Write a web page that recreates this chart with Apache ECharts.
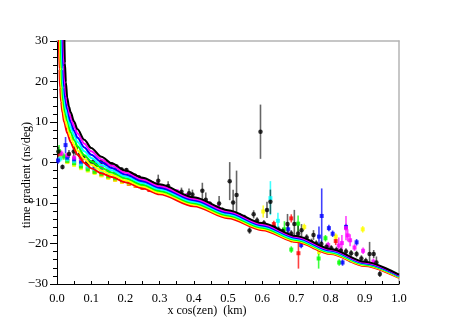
<!DOCTYPE html>
<html>
<head>
<meta charset="utf-8">
<script src="https://cdn.jsdelivr.net/npm/echarts@6/dist/echarts.min.js"></script>
<style>
  html, body { margin: 0; padding: 0; background: #fff; }
  #main { width: 457px; height: 323px; }
</style>
</head>
<body>
<div id="main"></div>
<script>
// fitted curves, [x, y]
var curveRed = [[0.0055,31],[0.007,23],[0.009,18.5],[0.012,15],[0.016,12.3],[0.021,10],[0.03,7.3],[0.04,5.0],[0.05,3.3],[0.06,1.9],[0.08,-0.1],[0.1,-1.4],[0.13,-2.65],[0.16,-3.6],[0.2,-4.85],[0.25,-6.37],[0.3,-7.85],[0.4,-10.8],[0.5,-13.75],[0.6,-16.7],[0.7,-19.65],[0.8,-22.6],[0.9,-25.55],[1.0,-28.5]];
var curveYellow = [[0.0085,31],[0.0102,23],[0.0125,18.5],[0.0155,15],[0.0195,12.3],[0.0245,10.2],[0.03,8.75],[0.04,6.23],[0.05,4.43],[0.06,2.95],[0.08,0.85],[0.1,-0.57],[0.13,-1.97],[0.16,-3.03],[0.2,-4.38],[0.25,-5.93],[0.3,-7.44],[0.4,-10.43],[0.5,-13.42],[0.6,-16.41],[0.7,-19.4],[0.8,-22.39],[0.9,-25.38],[1.0,-28.37]];
var curveGreen = [[0.011,31],[0.0128,23],[0.0152,18.5],[0.0185,15],[0.0235,12.3],[0.03,10.2],[0.04,7.47],[0.05,5.57],[0.06,4.0],[0.08,1.8],[0.1,0.27],[0.13,-1.28],[0.16,-2.47],[0.2,-3.9],[0.25,-5.5],[0.3,-7.03],[0.4,-10.06],[0.5,-13.09],[0.6,-16.12],[0.7,-19.15],[0.8,-22.18],[0.9,-25.2],[1.0,-28.23]];
var curveCyan = [[0.0137,31],[0.0155,23],[0.018,18.5],[0.0215,15.2],[0.0255,13.2],[0.03,11.65],[0.04,8.7],[0.05,6.7],[0.06,5.05],[0.08,2.75],[0.1,1.1],[0.13,-0.6],[0.16,-1.9],[0.2,-3.43],[0.25,-5.06],[0.3,-6.63],[0.4,-9.7],[0.5,-12.76],[0.6,-15.83],[0.7,-18.9],[0.8,-21.97],[0.9,-25.03],[1.0,-28.1]];
var curveBlue = [[0.0163,31],[0.0182,23],[0.0208,18.5],[0.0245,15.5],[0.03,13.1],[0.04,9.93],[0.05,7.83],[0.06,6.1],[0.08,3.7],[0.1,1.93],[0.13,0.08],[0.16,-1.33],[0.2,-2.95],[0.25,-4.62],[0.3,-6.22],[0.4,-9.33],[0.5,-12.43],[0.6,-15.54],[0.7,-18.64],[0.8,-21.75],[0.9,-24.86],[1.0,-27.97]];
var curveMagenta = [[0.019,31],[0.0207,24],[0.0235,19],[0.0265,16.5],[0.03,14.55],[0.04,11.17],[0.05,8.97],[0.06,7.15],[0.08,4.65],[0.1,2.77],[0.13,0.77],[0.16,-0.77],[0.2,-2.48],[0.25,-4.19],[0.3,-5.81],[0.4,-8.96],[0.5,-12.1],[0.6,-15.25],[0.7,-18.39],[0.8,-21.54],[0.9,-24.68],[1.0,-27.83]];
var curveBlack = [[0.0215,31],[0.0232,24.5],[0.026,19.8],[0.03,16.0],[0.035,13.8],[0.04,12.4],[0.05,10.1],[0.06,8.2],[0.08,5.6],[0.1,3.6],[0.13,1.45],[0.16,-0.2],[0.2,-2.0],[0.25,-3.75],[0.3,-5.4],[0.4,-8.59],[0.5,-11.77],[0.6,-14.96],[0.7,-18.14],[0.8,-21.33],[0.9,-24.51],[1.0,-27.7]];

// measured points, [x, y, error]
var blackPts = [[0.004,2.7,1.2],[0.016,-1.1,0.6],[0.035,2.1,1.0],[0.049,2.7,1.2],[0.055,3.6,1.8],[0.066,1.9,1.0],[0.077,1.3,0.8],[0.087,-0.2,0.7],[0.096,0.0,0.6],[0.106,0.2,0.6],[0.115,-0.6,0.5],[0.13,0.2,0.5],[0.144,-0.2,0.5],[0.159,-0.45,0.5],[0.174,-1.0,0.5],[0.189,-1.7,0.5],[0.203,-1.85,0.5],[0.218,-3.0,0.5],[0.228,-3.3,0.5],[0.24,-3.7,0.5],[0.251,-4.1,0.5],[0.266,-4.9,0.5],[0.279,-5.2,0.5],[0.296,-4.5,1.5],[0.305,-6.1,0.5],[0.315,-6.6,0.5],[0.325,-5.8,1.2],[0.335,-7.2,0.5],[0.349,-7.8,0.5],[0.364,-7.2,1.0],[0.373,-8.4,0.5],[0.386,-7.6,1.2],[0.396,-7.9,1.2],[0.408,-9.3,0.5],[0.425,-7.0,2.0],[0.435,-9.2,1.8],[0.447,-10.2,0.6],[0.461,-11.1,0.6],[0.474,-10.1,1.8],[0.484,-11.7,0.6],[0.495,-12.4,0.6],[0.505,-4.6,4.7],[0.515,-9.9,3.2],[0.525,-8.0,6.0],[0.535,-13.2,0.7],[0.548,-13.6,0.7],[0.563,-16.8,0.8],[0.575,-12.8,1.0],[0.585,-14.3,0.8],[0.595,7.6,6.7],[0.605,-15.0,0.8],[0.614,-11.7,2.0],[0.624,-9.7,3.0],[0.636,-16.1,0.8],[0.648,-16.6,0.8],[0.66,-16.9,0.8],[0.674,-15.2,2.5],[0.685,-17.5,0.8],[0.694,-15.2,3.5],[0.705,-17.5,2.0],[0.715,-16.7,1.5],[0.73,-18.5,0.8],[0.744,-19.6,0.8],[0.75,-17.9,1.2],[0.758,-20.0,0.8],[0.773,-20.1,0.8],[0.788,-20.8,0.8],[0.802,-21.2,0.8],[0.817,-21.6,0.8],[0.83,-21.8,0.8],[0.845,-22.0,0.8],[0.86,-22.4,0.8],[0.876,-22.6,0.8],[0.89,-23.7,0.8],[0.903,-24.3,0.8],[0.914,-22.6,3.0],[0.926,-22.6,1.0],[0.934,-24.7,1.5],[0.944,-27.5,0.8]];
var redPts = [[0.008,1.8,0.8],[0.03,0.3,0.4],[0.05,-0.1,0.4],[0.07,-0.8,0.4],[0.09,-1.5,0.4],[0.11,-2.3,0.4],[0.13,-3.0,0.4],[0.15,-3.6,0.4],[0.17,-4.2,0.4],[0.19,-4.7,0.4],[0.21,-5.3,0.4],[0.23,-5.8,0.4],[0.25,-6.3,0.4],[0.27,-6.8,0.4],[0.29,-7.3,0.4],[0.634,-15.2,0.8],[0.685,-13.8,1.0],[0.706,-22.4,3.8],[0.815,-19.4,1.0]];
var yellowPts = [[0.012,1.2,0.6],[0.03,0.1,0.4],[0.05,-0.6,0.4],[0.07,-1.4,0.4],[0.09,-2.0,0.4],[0.11,-2.6,0.4],[0.13,-3.2,0.4],[0.15,-3.8,0.4],[0.17,-4.3,0.4],[0.19,-4.8,0.4],[0.21,-5.2,0.4],[0.23,-5.7,0.4],[0.25,-6.1,0.4],[0.27,-6.5,0.4],[0.29,-7.0,0.4],[0.603,-12.1,1.5],[0.685,-19.1,0.8],[0.723,-15.9,0.8],[0.766,-22.1,0.8],[0.815,-18.3,0.8],[0.894,-16.5,0.8]];
var greenPts = [[0.006,2.8,1.5],[0.02,1.5,0.8],[0.03,0.4,0.4],[0.05,-0.2,0.4],[0.07,-1.0,0.4],[0.09,-1.7,0.4],[0.11,-2.3,0.4],[0.13,-2.8,0.4],[0.15,-3.4,0.4],[0.17,-3.9,0.4],[0.19,-4.4,0.4],[0.21,-4.9,0.4],[0.23,-5.3,0.4],[0.25,-5.7,0.4],[0.27,-6.1,0.4],[0.29,-6.6,0.4],[0.665,-16.5,2.0],[0.685,-21.5,0.8],[0.705,-15.1,2.0],[0.765,-23.7,2.5],[0.785,-18.7,0.8],[0.825,-24.7,0.8]];
var cyanPts = [[0.01,1.0,0.8],[0.03,0.8,0.4],[0.05,0.3,0.4],[0.07,-0.4,0.4],[0.09,-1.0,0.4],[0.11,-1.6,0.4],[0.13,-2.2,0.4],[0.15,-2.8,0.4],[0.17,-3.3,0.4],[0.19,-3.7,0.4],[0.21,-4.2,0.4],[0.23,-4.6,0.4],[0.25,-5.1,0.4],[0.27,-5.6,0.4],[0.29,-6.1,0.4],[0.624,-8.8,4.2],[0.646,-14.4,2.0],[0.857,-24.0,0.8]];
var bluePts = [[0.003,0.5,0.8],[0.025,4.3,2.0],[0.03,1.2,0.4],[0.05,0.8,0.4],[0.07,0.2,0.4],[0.09,-0.3,0.4],[0.11,-0.9,0.4],[0.13,-1.5,0.4],[0.15,-2.0,0.4],[0.17,-2.5,0.4],[0.19,-3.0,0.4],[0.21,-3.5,0.4],[0.23,-4.0,0.4],[0.25,-4.5,0.4],[0.27,-5.0,0.4],[0.29,-5.5,0.4],[0.32,-6.4,0.4],[0.35,-7.4,0.4],[0.38,-8.4,0.4],[0.41,-9.3,0.4],[0.44,-10.3,0.4],[0.47,-11.3,0.4],[0.5,-12.6,0.4],[0.53,-13.6,0.4],[0.676,-16.5,1.2],[0.714,-20.4,0.8],[0.75,-20.6,0.8],[0.766,-18.3,2.5],[0.774,-13.2,6.8],[0.795,-16.2,0.8],[0.806,-17.6,0.8],[0.835,-24.7,0.8],[0.845,-15.9,0.8],[0.876,-19.7,0.8]];
var magentaPts = [[0.013,2.2,0.8],[0.03,1.8,0.4],[0.05,1.2,0.4],[0.07,0.9,0.4],[0.09,0.4,0.4],[0.11,-0.2,0.4],[0.13,-0.9,0.4],[0.15,-1.6,0.4],[0.17,-2.0,0.4],[0.19,-2.5,0.4],[0.21,-3.0,0.4],[0.23,-3.6,0.4],[0.25,-4.2,0.4],[0.27,-4.8,0.4],[0.29,-5.4,0.4],[0.32,-6.1,0.4],[0.35,-7.1,0.4],[0.38,-8.1,0.4],[0.41,-9.0,0.4],[0.44,-10.0,0.4],[0.47,-11.0,0.4],[0.5,-12.3,0.4],[0.53,-13.3,0.4],[0.56,-14.2,0.4],[0.793,-20.4,0.8],[0.824,-20.5,2.0],[0.833,-19.9,2.0],[0.845,-16.2,3.0],[0.85,-18.0,1.5],[0.857,-19.2,1.5],[0.87,-21.0,0.8],[0.895,-21.8,0.8],[0.925,-24.5,0.8]];

var xTicks = [0, 1, 0.1];
var yTicks = [-30, 30, 10];

var serif = 'Liberation Serif';

function curve(data, color) {
  return {
    type: 'line', data: data, showSymbol: false, smooth: 0.3, smoothMonotone: 'x',
    lineStyle: { color: color, width: 2 }, clip: true, silent: true
  };
}

function bars(data, color) {
  return {
    type: 'custom', data: data, clip: true, silent: true,
    encode: { x: 0, y: 1 },
    renderItem: function (params, api) {
      var x = api.value(0), y = api.value(1), e = api.value(2);
      var a = api.coord([x, y - e]);
      var b = api.coord([x, y + e]);
      return {
        type: 'line',
        shape: { x1: a[0], y1: a[1], x2: b[0], y2: b[1] },
        style: { stroke: color, lineWidth: 1.6 }
      };
    }
  };
}

function points(data, color, symbol, size) {
  return {
    type: 'scatter', data: data, symbol: symbol, symbolSize: size, silent: true,
    itemStyle: { color: color }
  };
}

var chart = echarts.init(document.getElementById('main'));
chart.setOption({
  animation: false,
  backgroundColor: '#fff',
  grid: { left: 57, right: 58, top: 41, bottom: 39, outerBoundsMode: 'none', containLabel: false },
  xAxis: [{
    type: 'value', min: xTicks[0], max: xTicks[1], interval: xTicks[2],
    name: 'x cos(zen)  (km)', nameLocation: 'middle', nameGap: 21, nameMoveOverlap: false,
    nameTextStyle: { fontFamily: serif, fontSize: 12, color: '#000', padding: [0, 42, 0, 0] },
    axisLine: { onZero: false, lineStyle: { color: '#000', width: 1 } },
    axisTick: { inside: true, length: 3, lineStyle: { color: '#000' } },
    minorTick: { show: true, splitNumber: 2, length: 3, lineStyle: { color: '#000' } },
    splitLine: { show: false },
    axisLabel: { fontFamily: serif, fontSize: 12.5, color: '#000', margin: 8,
      formatter: function (v) { return v.toFixed(1); } }
  }, {
    type: 'value', position: 'top', min: 0, max: 1,
    axisLine: { show: true, onZero: false, lineStyle: { color: '#b4b4b4', width: 1.5 } },
    axisTick: { show: false }, axisLabel: { show: false }, splitLine: { show: false }
  }],
  yAxis: [{
    type: 'value', min: yTicks[0], max: yTicks[1], interval: yTicks[2],
    name: 'time gradient (ns/deg)', nameLocation: 'middle', nameGap: 24, nameMoveOverlap: false,
    nameTextStyle: { fontFamily: serif, fontSize: 12, color: '#000', padding: [0, 25, 0, 0] },
    axisLine: { show: true, onZero: false, lineStyle: { color: '#000', width: 1 } },
    axisTick: { show: true, inside: false, length: 7, lineStyle: { color: '#000' } },
    minorTick: { show: true, splitNumber: 5, length: 4, lineStyle: { color: '#000' } },
    splitLine: { show: false },
    axisLabel: { fontFamily: serif, fontSize: 13, color: '#000', margin: 9,
      formatter: function (v) { return v < 0 ? '\u2212' + Math.abs(v) : String(v); } }
  }, {
    type: 'value', position: 'right', min: -30, max: 30,
    axisLine: { show: true, onZero: false, lineStyle: { color: '#b4b4b4', width: 1.5 } },
    axisTick: { show: false }, axisLabel: { show: false }, splitLine: { show: false }
  }],
  series: [
    curve(curveRed, '#ff0000'),
    curve(curveYellow, '#ffff00'),
    curve(curveGreen, '#00ff00'),
    curve(curveCyan, '#00ffff'),
    curve(curveBlue, '#0000ff'),
    curve(curveMagenta, '#ff00ff'),
    curve(curveBlack, '#000000'),
    bars(redPts, 'rgba(255,0,0,0.75)'), points(redPts, '#ff0000', 'rect', 4),
    bars(yellowPts, 'rgba(255,255,0,0.8)'), points(yellowPts, '#ffff00', 'rect', 4),
    bars(greenPts, 'rgba(0,255,0,0.75)'), points(greenPts, '#00ff00', 'rect', 4),
    bars(cyanPts, 'rgba(0,255,255,0.75)'), points(cyanPts, '#00ffff', 'rect', 4),
    bars(bluePts, 'rgba(0,0,255,0.75)'), points(bluePts, '#0000ff', 'rect', 4),
    bars(magentaPts, 'rgba(255,0,255,0.75)'), points(magentaPts, '#ff00ff', 'rect', 4),
    bars(blackPts, 'rgba(0,0,0,0.6)'), points(blackPts, '#000000', 'circle', 4.5)
  ]
});
</script>
</body>
</html>
